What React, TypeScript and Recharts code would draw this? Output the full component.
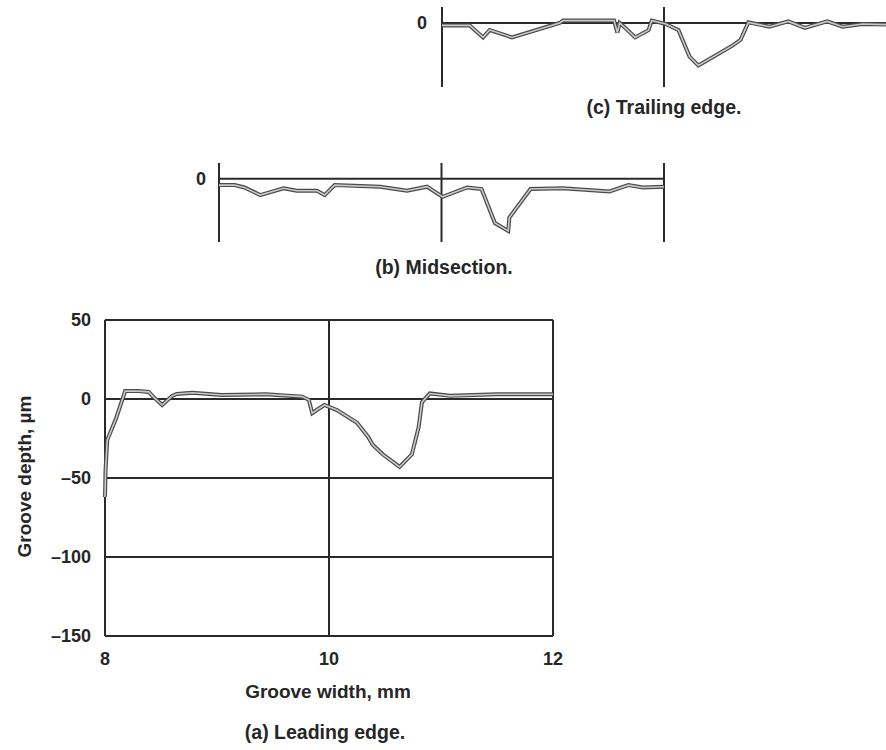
import React from "react";
import {
  CartesianGrid,
  Line,
  LineChart,
  ReferenceLine,
  XAxis,
  YAxis,
} from "recharts";

// groove width positions (mm) and depths (µm)
const leadingWidth = [
  8.0, 8.005, 8.02, 8.1, 8.18, 8.3, 8.39, 8.43, 8.51, 8.6, 8.64, 8.78, 9.04,
  9.44, 9.76, 9.82, 9.85, 9.9, 9.96, 10.07, 10.25, 10.35, 10.39, 10.48, 10.63,
  10.74, 10.8, 10.83, 10.9, 11.08, 11.5, 12.0,
];
const leadingDepth = [
  -62, -45, -26, -12, 5, 5, 4.5, 1.5, -3.8, 2, 3.2, 4, 2.5, 3, 1.5, -0.5, -9,
  -6.5, -3.8, -7, -15, -24, -29, -35, -43, -35, -18, -2, 3.5, 2, 3, 3,
];

const midWidth = [
  8.0, 8.14, 8.23, 8.37, 8.58, 8.7, 8.88, 8.95, 9.04, 9.45, 9.69, 9.87, 10.01,
  10.23, 10.36, 10.48, 10.6, 10.61, 10.8, 11.09, 11.51, 11.68, 11.81, 12.0,
];
const midDepth = [
  -4, -4, -5.5, -10.3, -6, -7.6, -7.6, -10.3, -4, -5, -7.6, -5, -11.4, -5.5,
  -6.5, -28, -33, -24.5, -6.5, -6, -8, -4, -5.5, -5,
];

const trailWidth = [
  8.0, 8.25, 8.37, 8.43, 8.63, 9.06, 9.09, 9.55, 9.58, 9.6, 9.65, 9.74, 9.86,
  9.89, 10.01, 10.13, 10.23, 10.31, 10.62, 10.69, 10.76, 10.95, 11.12, 11.27,
  11.47, 11.61, 11.79, 12.0,
];
const trailDepth = [
  -1.5, -1.5, -9, -4.4, -9, 0, 1.5, 1.5, -6, 0, -3, -9, -4.5, 1.5, -0.5, -4.4,
  -21, -26.6, -14, -10.5, 0.4, -2.3, 1, -3, 1, -2.3, -0.6, -1,
];

const widthTicks = [8, 10, 12];
const depthTicks = [50, 0, -50, -100, -150];

const toRows = (xs: number[], ys: number[]) =>
  xs.map((x, i) => ({ x, depth: ys[i] }));

const font = "'Liberation Sans', Arial, Helvetica, sans-serif";
const ink = "#262626";
const dash = (v: number) => String(v).replace("-", "\u2013");
const tickStyle = { fontSize: 18, fill: ink, fontFamily: font, fontWeight: 700 };

// scanned profile: dark outline with a pale core
function Trace({ id }: { id: string }) {
  return (
    <>
      <Line
        key={id + "o"}
        dataKey="depth"
        type="linear"
        stroke="#4a4a4a"
        strokeWidth={4}
        dot={false}
        isAnimationActive={false}
      />
      <Line
        key={id + "i"}
        dataKey="depth"
        type="linear"
        stroke="#c9c9c9"
        strokeWidth={1.6}
        dot={false}
        isAnimationActive={false}
      />
    </>
  );
}

function Caption({
  text,
  x,
  y,
  size = 19.5,
}: {
  text: string;
  x: number;
  y: number;
  size?: number;
}) {
  return (
    <div
      style={{
        position: "absolute",
        left: x - 150,
        top: y - size / 2,
        width: 300,
        textAlign: "center",
        fontFamily: font,
        fontSize: size,
        fontWeight: 700,
        lineHeight: 1,
        color: ink,
      }}
    >
      {text}
    </div>
  );
}

function SmallPanel({
  rows,
  left,
  top,
  width,
  margin,
  verticals,
  gap,
}: {
  rows: { x: number; depth: number }[];
  left: number;
  top: number;
  width: number;
  margin: { top: number; right: number; bottom: number; left: number };
  verticals: number[];
  gap: number;
}) {
  return (
    <div style={{ position: "absolute", left, top }}>
      <LineChart width={width} height={100} data={rows} margin={margin}>
        <XAxis
          dataKey="x"
          type="number"
          domain={[8, 12]}
          allowDataOverflow
          hide
        />
        <YAxis
          type="number"
          domain={[-40, 10]}
          ticks={[0]}
          width={40}
          axisLine={false}
          tickLine={false}
          tickSize={0}
          tickMargin={gap}
          tick={tickStyle}
        />
        <ReferenceLine y={0} stroke="#2a2a2a" strokeWidth={2} />
        {verticals.map((v) => (
          <ReferenceLine key={v} x={v} stroke="#2a2a2a" strokeWidth={2} />
        ))}
        {Trace({ id: "s" })}
      </LineChart>
    </div>
  );
}

export default function App() {
  return (
    <div
      style={{
        position: "absolute",
        left: 0,
        top: 0,
        width: 886,
        height: 750,
        background: "#fff",
        overflow: "hidden",
      }}
    >
      {/* (c) trailing edge */}
      <SmallPanel
        rows={toRows(trailWidth, trailDepth)}
        left={390}
        top={0}
        width={496}
        margin={{ top: 7, right: 0, bottom: 13, left: 12 }}
        verticals={[8, 10]}
        gap={15}
      />
      <Caption text="(c) Trailing edge." x={664} y={108} />

      {/* (b) midsection */}
      <SmallPanel
        rows={toRows(midWidth, midDepth)}
        left={150}
        top={150}
        width={540}
        margin={{ top: 13, right: 26, bottom: 8, left: 29 }}
        verticals={[8, 10, 12]}
        gap={13}
      />
      <Caption text="(b) Midsection." x={444} y={268} />

      {/* (a) leading edge */}
      <div style={{ position: "absolute", left: 0, top: 300 }}>
        <LineChart
          width={600}
          height={420}
          data={toRows(leadingWidth, leadingDepth)}
          margin={{ top: 20, right: 47, bottom: 54, left: 45 }}
        >
          <CartesianGrid stroke="#2a2a2a" strokeWidth={2} />
          <XAxis
            dataKey="x"
            type="number"
            domain={[8, 12]}
            ticks={widthTicks}
            height={30}
            axisLine={false}
            tickLine={false}
            tickSize={0}
            tickMargin={16}
            tick={tickStyle}
          />
          <YAxis
            type="number"
            domain={[-150, 50]}
            ticks={depthTicks}
            width={60}
            axisLine={false}
            tickLine={false}
            tickSize={0}
            tickMargin={14}
            tickFormatter={dash}
            tick={tickStyle}
          />
          {Trace({ id: "a" })}
        </LineChart>
      </div>
      <Caption text="Groove width, mm" x={328} y={691} size={19} />
      <Caption text="(a) Leading edge." x={325} y={733} />
      <div
        style={{
          position: "absolute",
          left: 24 - 150,
          top: 476 - 9.5,
          width: 300,
          textAlign: "center",
          fontFamily: font,
          fontSize: 19,
          fontWeight: 700,
          lineHeight: 1,
          color: ink,
          transform: "rotate(-90deg)",
        }}
      >
        Groove depth, µm
      </div>
    </div>
  );
}
